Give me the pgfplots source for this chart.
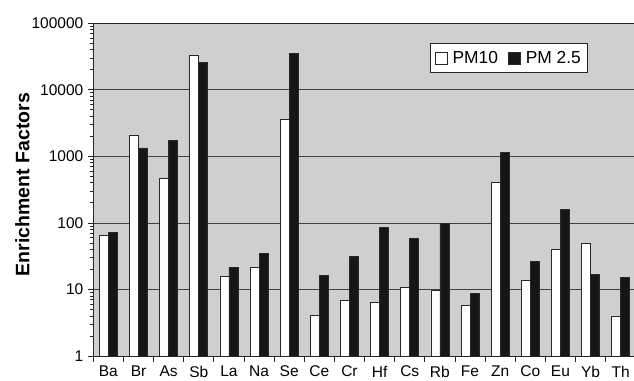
\documentclass[border=0pt]{standalone}
\usepackage{fontspec}
\setmainfont{Liberation Sans}
\usepackage{pgfplots}
\pgfplotsset{compat=1.18}
\usepackage{pgfplotstable}
\definecolor{bggray}{RGB}{207,207,207}
\definecolor{barblack}{RGB}{22,22,22}
\definecolor{edge}{RGB}{40,40,40}
\pgfplotstableread{
idx name pmten pmtwo
0 Ba 64 72
1 Br 2080 1340
2 As 460 1710
3 Sb 33000 26200
4 La 15.9 21.7
5 Na 21.2 34.4
6 Se 3620 35100
7 Ce 4.03 16.1
8 Cr 6.8 31
9 Hf 6.4 84.5
10 Cs 10.6 59
11 Rb 9.6 98
12 Fe 5.8 8.7
13 Zn 400 1157
14 Co 13.7 26.7
15 Eu 39.5 161
16 Yb 48.5 16.9
17 Th 4.0 15.2
}\datatable
\begin{document}
\begin{tikzpicture}
\useasboundingbox (-93.3pt,-24pt) rectangle (540.7pt,356pt);
\begin{axis}[
  at={(0pt,0pt)}, anchor=south west,
  scale only axis,
  width=542.5pt, height=332.7pt,
  ymode=log, ymin=1, ymax=100000,
  log origin=infty,
  xmin=-0.5, xmax=17.5,
  axis background/.style={fill=bggray},
  axis line style={draw=black!85, line width=0.8pt},
  ybar=0pt, bar width=9pt,
  xtick={-0.5,0.5,...,17.5},
  x tick label as interval,
  xticklabels={Ba,Br,As,Sb,La,Na,Se,Ce,Cr,Hf,Cs,Rb,Fe,Zn,Co,Eu,Yb,Th},
  ytick={1,10,100,1000,10000,100000},
  yticklabels={1,10,100,1000,10000,100000},
  tick align=outside,
  xtick pos=bottom, ytick pos=left,
  major tick length=5.5pt,
  tick style={draw=black!85, line width=0.8pt},
  ymajorgrids,
  grid style={draw=black!75, line width=0.8pt},
  ticklabel style={font=\fontsize{15.5}{18}\selectfont},
  yticklabel style={xshift=-1pt},
  xticklabel style={yshift=-1pt},
  every axis y label/.style={at={(rel axis cs:0,0.515)}, xshift=-71pt, rotate=90, anchor=center},
  ylabel={\fontsize{19.5}{23}\selectfont\bfseries Enrichment Factors},
  legend columns=2,
  legend style={at={(rel axis cs:0.9106,0.9417)}, anchor=north east,
    draw=black!85, line width=0.8pt, fill=white,
    font=\fontsize{17.4}{20}\selectfont,
    inner xsep=4pt, inner ysep=6pt,
    /tikz/every odd column/.append style={column sep=3pt},
    /tikz/every even column/.append style={column sep=8pt}},
  legend image code/.code={\draw[#1, line width=0.8pt] (0pt,-6pt) rectangle (12pt,6pt);},
]
\addplot[fill=white, draw=edge, line width=0.8pt] table[x=idx, y=pmten] {\datatable};
\addlegendentry{PM10}
\addplot[fill=barblack, draw=edge, line width=0.8pt] table[x=idx, y=pmtwo] {\datatable};
\addlegendentry{PM 2.5}
\end{axis}
\end{tikzpicture}
\end{document}
